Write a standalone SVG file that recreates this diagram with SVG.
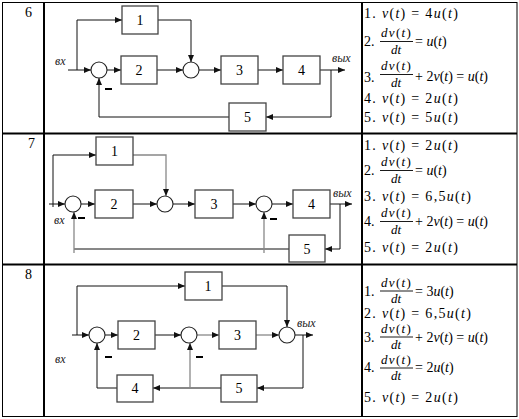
<svg xmlns="http://www.w3.org/2000/svg" width="519" height="419" viewBox="0 0 519 419" font-family="Liberation Serif, Times New Roman, serif">
<style>
.tbl{fill:none;stroke:#000;stroke-width:1}
.thk{stroke:#000;stroke-width:2}
.blk{fill:#fff;stroke:#444;stroke-width:1.3}
.sum{fill:#fff;stroke:#222;stroke-width:1.1}
.ln{fill:none;stroke:#111;stroke-width:1}
.gr{fill:none;stroke:#888;stroke-width:1.3}
.ar{marker-end:url(#ah)}
.lbl{font-family:'Liberation Serif','Times New Roman',serif;font-size:14px;fill:#000;text-anchor:middle}
.num{font-family:'Liberation Serif','Times New Roman',serif;font-size:14px;fill:#000}
.io{font-family:'Liberation Serif','Times New Roman',serif;font-size:12px;font-style:italic;fill:#222}
.eq{font-family:'Liberation Serif','Times New Roman',serif;font-size:14px;fill:#000}
.fr{font-family:'Liberation Serif','Times New Roman',serif;font-size:13px;fill:#000}
.sp{letter-spacing:1.3px}
.i{font-style:italic}
.bar{stroke:#000;stroke-width:0.9}
.minus{stroke:#000;stroke-width:2}
</style>
<defs>
<marker id="ah" markerUnits="userSpaceOnUse" markerWidth="7" markerHeight="6" refX="7" refY="3" orient="auto">
<path d="M0,0 L7,3 L0,6 z" fill="#111"/>
</marker>
</defs>

<g id="table">
<rect class="tbl" x="2.5" y="2.5" width="514.5" height="414"/>
<line class="thk" x1="44" y1="2" x2="44" y2="417"/>
<line class="thk" x1="362" y1="2" x2="362" y2="417"/>
<line class="thk" x1="2" y1="133.5" x2="517" y2="133.5"/>
<line class="thk" x1="2" y1="264.5" x2="517" y2="264.5"/>
<text class="num" x="25" y="17">6</text>
<text class="num" x="28" y="148">7</text>
<text class="num" x="25" y="279">8</text>
</g>

<!-- Row 6 -->
<g id="connectors6">
<path class="ln ar" d="M68,70 H91"/>
<path class="ln ar" d="M77,70 V20 H122"/>
<path class="ln ar" d="M158,20 H191 V62"/>
<path class="ln ar" d="M107,70 H121"/>
<path class="ln ar" d="M157,70 H183"/>
<path class="ln ar" d="M199,70 H221"/>
<path class="ln ar" d="M258,70 H283"/>
<path class="ln ar" d="M320,70 H345"/>
<path class="ln ar" d="M331,70 V117 H266"/>
<path class="ln ar" d="M229,117 H99 V78"/>
<line class="minus" x1="105" y1="89" x2="112" y2="89"/>
</g>
<g id="r6b1"><rect class="blk" x="122" y="6" width="36" height="28"/><text class="lbl" x="140" y="25">1</text></g>
<g id="r6b2"><rect class="blk" x="121" y="56" width="36" height="28"/><text class="lbl" x="139" y="75">2</text></g>
<g id="r6b3"><rect class="blk" x="221" y="56" width="37" height="28"/><text class="lbl" x="239.5" y="75">3</text></g>
<g id="r6b4"><rect class="blk" x="283" y="56" width="37" height="28"/><text class="lbl" x="301.5" y="75">4</text></g>
<g id="r6b5"><rect class="blk" x="229" y="103" width="37" height="28"/><text class="lbl" x="247.5" y="122">5</text></g>
<g id="r6s1"><circle class="sum" cx="99" cy="70" r="8"/></g>
<g id="r6s2"><circle class="sum" cx="191" cy="70" r="8"/></g>
<g id="r6io"><text class="io" x="55" y="65">вх</text><text class="io" x="332" y="62">вых</text></g>

<!-- Row 7 -->
<g id="connectors7">
<path class="ln ar" d="M49,204 H65"/>
<path class="ln ar" d="M53,207 V155 H96"/>
<path class="gr ar" d="M133,155 H166 V196"/>
<path class="ln ar" d="M81,204 H95"/>
<path class="ln ar" d="M133,204 H157"/>
<path class="ln ar" d="M173,204 H195"/>
<path class="ln ar" d="M233,204 H256"/>
<path class="ln ar" d="M272,204 H293"/>
<path class="ln ar" d="M330,204 H352"/>
<path class="ln ar" d="M340,204 V249 H325"/>
<path class="ln" d="M289,249 H74"/>
<path class="gr ar" d="M74,253 V212"/>
<path class="gr ar" d="M264,253 V212"/>
<line class="minus" x1="78" y1="218" x2="85" y2="218"/>
<line class="minus" x1="270" y1="219" x2="277" y2="219"/>
</g>
<g id="r7b1"><rect class="blk" x="96" y="137" width="37" height="28"/><text class="lbl" x="114.5" y="156">1</text></g>
<g id="r7b2"><rect class="blk" x="95" y="190" width="38" height="28"/><text class="lbl" x="114" y="209">2</text></g>
<g id="r7b3"><rect class="blk" x="195" y="190" width="38" height="28"/><text class="lbl" x="214" y="209">3</text></g>
<g id="r7b4"><rect class="blk" x="293" y="190" width="37" height="28"/><text class="lbl" x="311.5" y="209">4</text></g>
<g id="r7b5"><rect class="blk" x="289" y="235" width="36" height="27"/><text class="lbl" x="307" y="254">5</text></g>
<g id="r7s1"><circle class="sum" cx="73" cy="204" r="8"/></g>
<g id="r7s2"><circle class="sum" cx="165" cy="204" r="8"/></g>
<g id="r7s3"><circle class="sum" cx="264" cy="204" r="8"/></g>
<g id="r7io"><text class="io" x="54" y="224">вх</text><text class="io" x="333" y="197">вых</text></g>

<!-- Row 8 -->
<g id="connectors8">
<path class="ln ar" d="M72,335 H89"/>
<path class="ln ar" d="M77,335 V286 H185"/>
<path class="ln ar" d="M222,286 H287 V327"/>
<path class="ln ar" d="M105,335 H118"/>
<path class="ln ar" d="M155,335 H181"/>
<path class="gr ar" d="M197,335 H219"/>
<path class="gr ar" d="M256,335 H279"/>
<path class="ln ar" d="M295,335 H313"/>
<path class="ln ar" d="M303,335 V388 H257"/>
<path class="ln ar" d="M221,388 H153"/>
<path class="gr ar" d="M190,388 V343"/>
<path class="ln ar" d="M117,388 H97 V343"/>
<line class="minus" x1="105" y1="357" x2="112" y2="357"/>
<line class="minus" x1="196" y1="357" x2="203" y2="357"/>
</g>
<g id="r8b1"><rect class="blk" x="185" y="272" width="37" height="28"/><text class="lbl" x="208" y="291">1</text></g>
<g id="r8b2"><rect class="blk" x="118" y="321" width="37" height="28"/><text class="lbl" x="136.5" y="340">2</text></g>
<g id="r8b3"><rect class="blk" x="219" y="321" width="37" height="28"/><text class="lbl" x="237.5" y="340">3</text></g>
<g id="r8b4"><rect class="blk" x="117" y="375" width="36" height="27"/><text class="lbl" x="135" y="393">4</text></g>
<g id="r8b5"><rect class="blk" x="221" y="375" width="36" height="27"/><text class="lbl" x="239" y="393">5</text></g>
<g id="r8s1"><circle class="sum" cx="97" cy="335" r="8"/></g>
<g id="r8s2"><circle class="sum" cx="189" cy="335" r="8"/></g>
<g id="r8s3"><circle class="sum" cx="287" cy="335" r="8"/></g>
<g id="r8io"><text class="io" x="55" y="363">вх</text><text class="io" x="297" y="327">вых</text></g>

<!-- Equations row 6 -->
<g id="eq6">
<text class="eq sp" x="364" y="18">1. <tspan class="i">v</tspan>(<tspan class="i">t</tspan>) = 4<tspan class="i">u</tspan>(<tspan class="i">t</tspan>)</text>
<text class="eq" x="364" y="46">2.</text>
<text class="fr sp" x="381" y="37"><tspan class="i">dv</tspan>(<tspan class="i">t</tspan>)</text>
<line class="bar" x1="380" y1="41.5" x2="413" y2="41.5"/>
<text class="fr i" x="396" y="53.5" text-anchor="middle">dt</text>
<text class="eq" x="415" y="46">= <tspan class="i">u</tspan>(<tspan class="i">t</tspan>)</text>
<text class="eq" x="364" y="82">3.</text>
<text class="fr sp" x="381" y="70"><tspan class="i">dv</tspan>(<tspan class="i">t</tspan>)</text>
<line class="bar" x1="380" y1="74.5" x2="413" y2="74.5"/>
<text class="fr i" x="396" y="86.5" text-anchor="middle">dt</text>
<text class="eq" x="415" y="81">+ 2<tspan class="i">v</tspan>(<tspan class="i">t</tspan>) = <tspan class="i">u</tspan>(<tspan class="i">t</tspan>)</text>
<text class="eq sp" x="364" y="103">4. <tspan class="i">v</tspan>(<tspan class="i">t</tspan>) = 2<tspan class="i">u</tspan>(<tspan class="i">t</tspan>)</text>
<text class="eq sp" x="364" y="122">5. <tspan class="i">v</tspan>(<tspan class="i">t</tspan>) = 5<tspan class="i">u</tspan>(<tspan class="i">t</tspan>)</text>
</g>

<!-- Equations row 7 -->
<g id="eq7">
<text class="eq sp" x="364" y="150">1. <tspan class="i">v</tspan>(<tspan class="i">t</tspan>) = 2<tspan class="i">u</tspan>(<tspan class="i">t</tspan>)</text>
<text class="eq" x="364" y="175">2.</text>
<text class="fr sp" x="381" y="166"><tspan class="i">dv</tspan>(<tspan class="i">t</tspan>)</text>
<line class="bar" x1="380" y1="170.5" x2="413" y2="170.5"/>
<text class="fr i" x="396" y="182.5" text-anchor="middle">dt</text>
<text class="eq" x="415" y="175">= <tspan class="i">u</tspan>(<tspan class="i">t</tspan>)</text>
<text class="eq sp" x="364" y="201">3. <tspan class="i">v</tspan>(<tspan class="i">t</tspan>) = 6,5<tspan class="i">u</tspan>(<tspan class="i">t</tspan>)</text>
<text class="eq" x="364" y="226">4.</text>
<text class="fr sp" x="381" y="217"><tspan class="i">dv</tspan>(<tspan class="i">t</tspan>)</text>
<line class="bar" x1="380" y1="221.5" x2="413" y2="221.5"/>
<text class="fr i" x="396" y="233.5" text-anchor="middle">dt</text>
<text class="eq" x="415" y="226">+ 2<tspan class="i">v</tspan>(<tspan class="i">t</tspan>) = <tspan class="i">u</tspan>(<tspan class="i">t</tspan>)</text>
<text class="eq sp" x="364" y="252">5. <tspan class="i">v</tspan>(<tspan class="i">t</tspan>) = 2<tspan class="i">u</tspan>(<tspan class="i">t</tspan>)</text>
</g>

<!-- Equations row 8 -->
<g id="eq8">
<text class="eq" x="364" y="295.5">1.</text>
<text class="fr sp" x="381" y="286.5"><tspan class="i">dv</tspan>(<tspan class="i">t</tspan>)</text>
<line class="bar" x1="380" y1="291" x2="413" y2="291"/>
<text class="fr i" x="396" y="302.5" text-anchor="middle">dt</text>
<text class="eq" x="415" y="295.5">= 3<tspan class="i">u</tspan>(<tspan class="i">t</tspan>)</text>
<text class="eq sp" x="364" y="318">2. <tspan class="i">v</tspan>(<tspan class="i">t</tspan>) = 6,5<tspan class="i">u</tspan>(<tspan class="i">t</tspan>)</text>
<text class="eq" x="364" y="341.5">3.</text>
<text class="fr sp" x="381" y="332.5"><tspan class="i">dv</tspan>(<tspan class="i">t</tspan>)</text>
<line class="bar" x1="380" y1="337" x2="413" y2="337"/>
<text class="fr i" x="396" y="349" text-anchor="middle">dt</text>
<text class="eq" x="415" y="341.5">+ 2<tspan class="i">v</tspan>(<tspan class="i">t</tspan>) = <tspan class="i">u</tspan>(<tspan class="i">t</tspan>)</text>
<text class="eq" x="364" y="372">4.</text>
<text class="fr sp" x="381" y="363.5"><tspan class="i">dv</tspan>(<tspan class="i">t</tspan>)</text>
<line class="bar" x1="380" y1="368" x2="413" y2="368"/>
<text class="fr i" x="396" y="380" text-anchor="middle">dt</text>
<text class="eq" x="415" y="372">= 2<tspan class="i">u</tspan>(<tspan class="i">t</tspan>)</text>
<text class="eq sp" x="364" y="402">5. <tspan class="i">v</tspan>(<tspan class="i">t</tspan>) = 2<tspan class="i">u</tspan>(<tspan class="i">t</tspan>)</text>
</g>
</svg>
